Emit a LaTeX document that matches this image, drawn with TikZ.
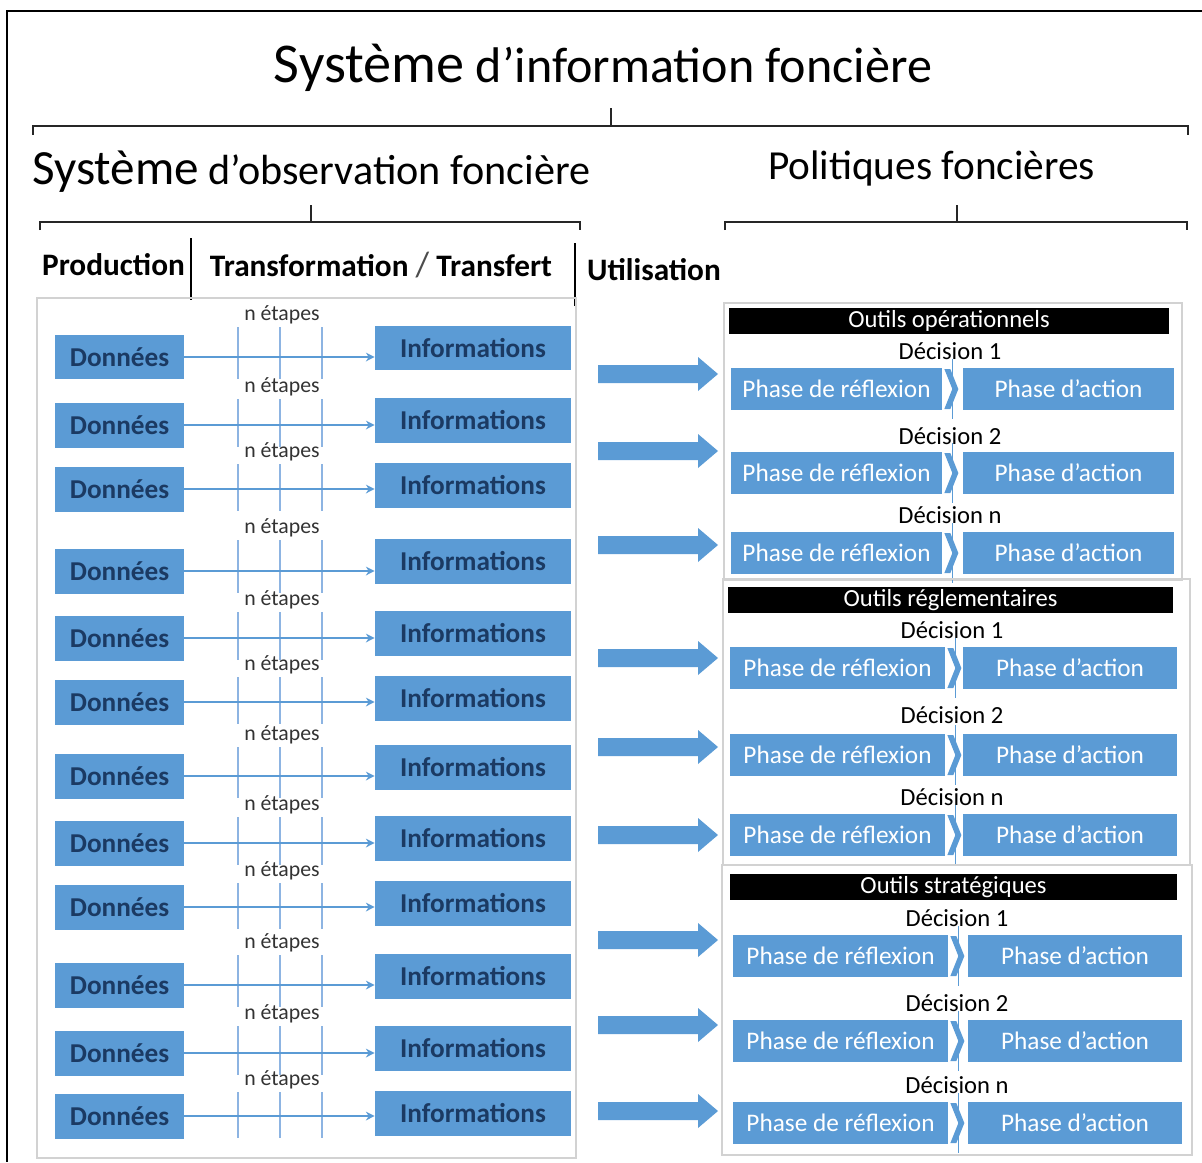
\documentclass[tikz,border=0pt]{standalone}
\usepackage{fontspec}
\setmainfont{Carlito}
\usetikzlibrary{arrows.meta}
\definecolor{ob}{HTML}{5B9BD5}
\definecolor{navy}{HTML}{1B3A63}
\definecolor{vl}{HTML}{8DB4E2}
\definecolor{pg}{HTML}{D2D2D2}
\newcommand{\mychev}[1]{%
  \fill[ob] (#1.east) ++(2,-20) -- ++(6,0) -- ++(8,20) -- ++(-8,20) -- ++(-6,0) -- ++(8,-20) -- cycle;
  \draw[ob, line width=0.6pt] (#1.east) ++(10,-30) -- ++(0,60);}
\begin{document}
\begin{tikzpicture}[x=0.02cm, y=-0.02cm,
  dbox/.style={fill=ob, text=navy, font=\fontsize{15.5}{18}\selectfont\bfseries, minimum width=2.58cm, minimum height=0.9cm, inner sep=0pt},
  ibox/.style={fill=ob, text=navy, font=\fontsize{15.5}{18}\selectfont\bfseries, minimum width=3.92cm, minimum height=0.9cm, inner sep=0pt},
  lbl/.style={font=\fontsize{12.4}{14}\selectfont, text=black!80, inner sep=0pt},
  vline/.style={draw=vl, line width=0.8pt},
  thinarr/.style={draw=ob, line width=1pt, -{Stealth[length=5pt,width=5pt]}},
  rbox/.style={fill=ob, text=white, font=\fontsize{14.4}{16}\selectfont, minimum height=0.84cm, inner sep=0pt},
  bar/.style={fill=black, text=white, font=\fontsize{14}{16}\selectfont, minimum height=0.52cm, inner sep=0pt},
  dec/.style={font=\fontsize{14}{16}\selectfont, text=black, inner sep=0pt},
  hdr/.style={font=\fontsize{17.8}{20}\selectfont\bfseries, inner sep=0pt},
  brk/.style={draw=black!85, line width=1.2pt},
  gbox/.style={draw=pg, line width=0.6pt}
]
\useasboundingbox (0,0) rectangle (1202,1162);
% outer frame
\draw[black, line width=1.2pt] (1202,11) -- (7,11) -- (7,1162);
% titles
\node[inner sep=0pt] (title) at (603,68) {{\fontsize{32}{36}\selectfont Système}\fontsize{28.5}{32}\selectfont\ d’information foncière};
\draw[brk] (33,135) -- (33,126) -- (1188,126) -- (1188,135);
\draw[brk] (611,126) -- (611,108);
\node[inner sep=0pt] (obs) at (311.5,172) {{\fontsize{28}{32}\selectfont Système}\fontsize{24}{28}\selectfont\ d’observation foncière};
\node[inner sep=0pt, font=\fontsize{23.5}{28}\selectfont] (pol) at (931.5,168) {Politiques foncières};
\draw[brk] (40,230) -- (40,222) -- (580,222) -- (580,230);
\draw[brk] (311,222) -- (311,205);
\draw[brk] (725,230) -- (725,222) -- (1187,222) -- (1187,230);
\draw[brk] (957,222) -- (957,205);
% headers
\node[hdr] (prod) at (113.5,265) {Production};
\draw[black, line width=1.4pt] (191,238) -- (191,300);
\node[hdr] (trans) at (381,265) {Transformation {\mdseries\color{black!70}\fontsize{20}{20}\selectfont /} Transfert};
\draw[black, line width=1.4pt] (575,243) -- (575,306);
\node[hdr] (util) at (654,270) {Utilisation};
% left panel
\draw[gbox] (37,298) rectangle (576,1158);
\foreach \k/\dy/\iy/\ly in {1/357/348/315, 2/425/420/387, 3/489/485/452, 4/571/561/528, 5/638/633/600, 6/702/698/665, 7/776/767/735, 8/843/838/805, 9/907/903/871, 10/985/976/943, 11/1053/1048/1014, 12/1116/1113/1080} {
  \node[dbox] (d\k) at (119.5,\dy) {Données};
  \node[ibox] (i\k) at (473,\iy) {Informations};
  \node[lbl] (n\k) at (282,\ly) {n étapes};
  \foreach \xx in {238,280,322} \draw[vline] (\xx,{\ly+12}) -- (\xx,{\dy+22});
  \draw[thinarr] (d\k.east) -- (d\k.east -| i\k.west);
}
% big arrows
\foreach \yy in {374,451,545,658,747,835,940,1025,1111} {
  \fill[ob] (598,{\yy-9}) -- (698,{\yy-9}) -- (698,{\yy-17}) -- (718,\yy) -- (698,{\yy+17}) -- (698,{\yy+9}) -- (598,{\yy+9}) -- cycle;
}
% group 1
\draw[gbox] (724,303) rectangle (1182,580);
\node[bar, minimum width=8.8cm] (b1) at (949,321) {Outils opérationnels};
\foreach \k/\yy/\dd/\lab in {1/389/351/1, 2/473/436/2, 3/553/515/n} {
  \node[dec] (dA\k) at (950,\dd) {Décision \lab};
  \node[rbox, minimum width=4.22cm] (rA\k) at (836.5,\yy) {Phase de réflexion};
  \node[rbox, minimum width=4.22cm] (aA\k) at (1068.5,\yy) {Phase d’action};
  \mychev{rA\k}
}
% group 2
\draw[gbox] (723,579) rectangle (1190,865);
\node[bar, minimum width=8.9cm] (b2) at (950.5,600) {Outils réglementaires};
\foreach \k/\yy/\dd/\lab in {1/668/630/1, 2/755/715/2, 3/835/797/n} {
  \node[dec] (dB\k) at (952,\dd) {Décision \lab};
  \node[rbox, minimum width=4.3cm] (rB\k) at (837.5,\yy) {Phase de réflexion};
  \node[rbox, minimum width=4.28cm] (aB\k) at (1070,\yy) {Phase d’action};
  \mychev{rB\k}
}
% group 3
\draw[gbox] (722,865) rectangle (1192,1155);
\node[bar, minimum width=8.94cm] (b3) at (953.5,887) {Outils stratégiques};
\foreach \k/\yy/\dd/\lab in {1/956/918/1, 2/1041/1003/2, 3/1123/1085/n} {
  \node[dec] (dC\k) at (957,\dd) {Décision \lab};
  \node[rbox, minimum width=4.3cm] (rC\k) at (840.5,\yy) {Phase de réflexion};
  \node[rbox, minimum width=4.28cm] (aC\k) at (1075,\yy) {Phase d’action};
  \mychev{rC\k}
}
\end{tikzpicture}
\end{document}
